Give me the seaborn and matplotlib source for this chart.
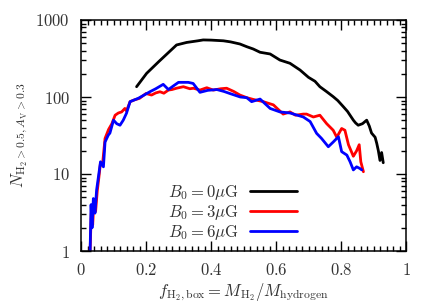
import numpy as np
import pandas as pd
import seaborn as sns
import matplotlib
matplotlib.use("Agg")
import matplotlib.pyplot as plt
from matplotlib.ticker import FixedLocator, FixedFormatter, MultipleLocator, LogLocator, NullFormatter

# ---- data ----
x_b0 = [0.171, 0.202, 0.24, 0.294, 0.325, 0.36, 0.376, 0.40, 0.438, 0.46, 0.489, 0.51, 0.53,
        0.551, 0.582, 0.612, 0.643, 0.674, 0.70, 0.72, 0.735, 0.755, 0.776, 0.79, 0.807, 0.82,
        0.838, 0.845, 0.853, 0.866, 0.879, 0.887, 0.894, 0.905, 0.91, 0.915, 0.92, 0.925, 0.93]
y_b0 = [136, 203, 290, 474, 511, 537, 551, 548, 537, 520, 488, 450, 420,
        381, 362, 302, 274, 224, 180, 160, 136, 118, 101, 90, 75, 65,
        50, 46, 43, 45, 50, 42, 34, 30, 25, 20, 15, 19, 14]

x_b3 = [0.028, 0.032, 0.036, 0.04, 0.045, 0.05, 0.055, 0.06, 0.066, 0.074, 0.085, 0.095, 0.105,
        0.115, 0.125, 0.135, 0.14, 0.151, 0.165, 0.18, 0.20, 0.217, 0.23, 0.243, 0.255, 0.269,
        0.28, 0.294, 0.315, 0.335, 0.346, 0.366, 0.387, 0.407, 0.43, 0.448, 0.47, 0.489, 0.51,
        0.53, 0.561, 0.592, 0.622, 0.643, 0.66, 0.684, 0.694, 0.715, 0.735, 0.756, 0.776, 0.787,
        0.802, 0.812, 0.823, 0.838, 0.848, 0.856, 0.861, 0.869]
y_b3 = [1, 3.5, 2.2, 4.5, 3.3, 6, 9, 14, 13, 29, 38, 45, 58,
        62, 64, 71, 66, 87, 92, 96, 111, 106, 113, 117, 112, 123,
        125, 130, 136, 128, 130, 123, 132, 123, 128, 130, 118, 106, 98,
        93, 87, 79, 60, 64, 58, 60, 60, 55, 58, 45, 37, 30,
        39, 37, 24, 17, 20, 24, 14.4, 10.7]

x_b6 = [0.028, 0.031, 0.034, 0.038, 0.043, 0.048, 0.053, 0.06, 0.069, 0.074, 0.084, 0.089, 0.10,
        0.11, 0.12, 0.13, 0.14, 0.151, 0.176, 0.212, 0.23, 0.253, 0.269, 0.285, 0.30, 0.33,
        0.345, 0.366, 0.39, 0.418, 0.44, 0.458, 0.49, 0.51, 0.525, 0.551, 0.582, 0.612, 0.643,
        0.684, 0.705, 0.725, 0.74, 0.761, 0.776, 0.792, 0.802, 0.818, 0.828, 0.838, 0.848,
        0.858, 0.864]
y_b6 = [1, 4, 2, 4.8, 3.1, 6.2, 8.8, 14.4, 12.4, 26, 32, 34, 50,
        45, 43, 50, 61.6, 87, 96, 117, 128, 146, 125, 140, 155, 155,
        150, 115, 122, 125, 118, 111, 100, 98, 87, 94, 71, 64, 62,
        55, 48, 33.7, 29, 22.6, 26, 30.5, 19.5, 17.6, 14.4, 11.3, 12.4,
        11.8, 11.3]

labels = [r"$B_0 = 0\mu{\rm G}$", r"$B_0 = 3\mu{\rm G}$", r"$B_0 = 6\mu{\rm G}$"]
colors = ["black", "red", "blue"]
x_ticks = [0, 0.2, 0.4, 0.6, 0.8, 1]
x_ticklabels = ["$0$", "$0.2$", "$0.4$", "$0.6$", "$0.8$", "$1$"]
y_ticks = [1, 10, 100, 1000]
y_ticklabels = ["$1$", "$10$", "$100$", "$1000$"]

frames = []
for lab, xs, ys in zip(labels, [x_b0, x_b3, x_b6], [y_b0, y_b3, y_b6]):
    frames.append(pd.DataFrame({"x": xs, "y": ys, "series": lab}))
df = pd.concat(frames, ignore_index=True)

sns.set_style("ticks")
plt.rcParams["font.family"] = ["DejaVu Serif"]
plt.rcParams["mathtext.fontset"] = "cm"
plt.rcParams["text.color"] = "#222222"

fs = 12
fig = plt.figure(figsize=(4.36, 3.05), dpi=100)
ax = fig.add_axes([81 / 436, 1 - 251 / 305, 325 / 436, 231 / 305])

sns.lineplot(data=df, x="x", y="y", hue="series", palette=dict(zip(labels, colors)),
             hue_order=labels, estimator=None, sort=False, lw=2.0, ax=ax, legend=False)

ax.set_yscale("log")
ax.set_xlim(0, 1)
ax.set_ylim(1, 1000)

ax.xaxis.set_major_locator(FixedLocator(x_ticks))
ax.xaxis.set_major_formatter(FixedFormatter(x_ticklabels))
ax.xaxis.set_minor_locator(MultipleLocator(0.02))
ax.yaxis.set_major_locator(FixedLocator(y_ticks))
ax.yaxis.set_major_formatter(FixedFormatter(y_ticklabels))
ax.yaxis.set_minor_locator(LogLocator(base=10, subs=np.arange(2, 10)))
ax.yaxis.set_minor_formatter(NullFormatter())

ax.tick_params(which="both", direction="in", top=True, right=True, color="black",
               labelcolor="#333333", labelsize=fs, width=1.0)
ax.tick_params(which="major", length=7, pad=8)
ax.tick_params(which="minor", length=3.5)
for sp in ax.spines.values():
    sp.set_linewidth(1.1)
    sp.set_color("black")

ax.set_xlabel(r"$f_{\rm H_2,box} = M_{\rm H_2}/M_{\rm hydrogen}$", fontsize=fs,
              labelpad=2, color="#333333")
ax.set_ylabel(r"$N_{\rm H_2>0.5, \mathit{A}_V>0.3}$", fontsize=fs, labelpad=4,
              color="#333333")

handles = [plt.Line2D([], [], color=c, lw=2.0) for c in colors]
leg = ax.legend(handles, labels, loc="lower right", bbox_to_anchor=(0.665, 0.04),
                frameon=False, markerfirst=False, fontsize=fs, handlelength=2.8,
                handletextpad=0.7, labelspacing=0.05, borderaxespad=0, borderpad=0)
for t in leg.get_texts():
    t.set_color("#333333")

fig.savefig("out.png", dpi=100)
